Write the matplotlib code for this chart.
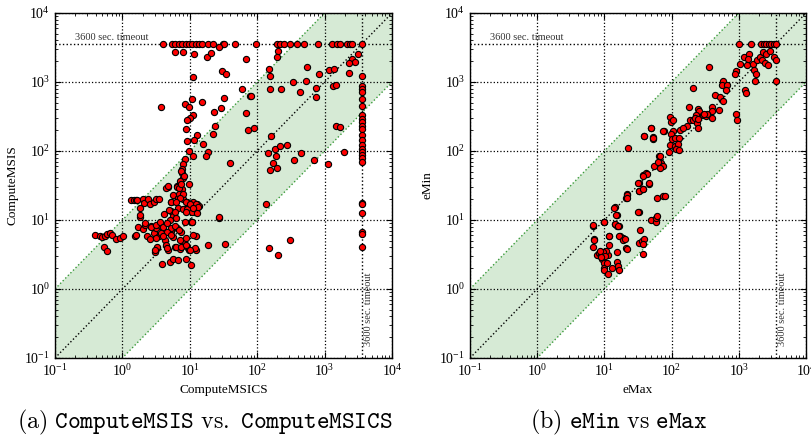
import numpy as np
import matplotlib
matplotlib.use('Agg')
import matplotlib.pyplot as plt

TIMEOUT = 3600

# ---------------- panel (a): ComputeMSICS (x) vs ComputeMSIS (y) ----------------
a_timeout_row_x = [4.0, 5.5, 6.1, 6.9, 7.7, 8.7, 9.7, 10.9, 12.2, 13.7, 15.3, 18.8, 22.4,
                   30.8, 32.2, 47, 96, 196, 219, 246, 302, 388, 499, 789, 1290, 1530, 1710,
                   2150, 2410, 2560, 3600]
a_timeout_col_y = [1230, 885, 795, 710, 569, 455, 327, 293, 262, 234, 210, 168, 143, 121,
                   108, 97, 87, 78, 69, 17.8, 16.8, 12.8, 6.6, 6.2, 4.0]
a_pts = [
    (6.0, 2750), (8.0, 2750), (11.6, 2580), (18.2, 2270), (20.9, 2650), (27.4, 3240), (68, 2150),
    (11.3, 1190), (30.4, 1440), (34.5, 1300),
    (3.7, 430), (8.6, 480), (9.7, 440), (10.6, 560), (11.3, 335), (10.2, 300), (9.0, 277),
    (15.3, 510), (22.6, 373), (28.7, 417), (32.2, 594), (59.7, 793), (78.5, 628), (68, 353),
    (74, 203), (90, 219),
    (8.8, 208), (12.6, 172), (11.5, 146), (9.1, 138), (15.8, 128), (22.4, 178), (23.6, 227),
    (18.8, 96), (17.2, 84), (11.3, 84), (9.6, 99), (39.5, 66), (8.6, 77), (8.0, 64), (7.6, 54),
    (7.6, 48), (8.0, 41), (7.1, 34.5), (9.7, 33.4), (6.4, 31), (4.8, 29.9), (4.5, 29.5),
    (7.6, 27.7), (7.1, 23.4), (5.7, 22.7), (6.7, 21), (8.0, 19.9), (5.2, 18.2), (9.0, 18.2),
    (9.5, 15.9), (10.6, 16.8), (11.6, 15.9), (12.6, 16.8), (13.7, 15.9), (6.7, 15.1),
    (7.8, 14.6), (9.0, 14.3), (5.35, 13.5), (5.7, 11.4), (10.9, 13.2), (12.6, 12.7),
    (134, 16.8), (27.4, 10.8), (10.3, 9.4),
    (1.33, 19.2), (1.49, 19.2), (1.58, 19.2), (1.67, 19.2), (1.99, 19.9), (2.1, 17.8),
    (2.4, 19.9), (2.6, 17.3), (2.93, 18.4), (3.13, 19.9), (3.5, 19.9), (1.85, 11.2), (1.81, 15.1),
    (0.39, 6.1), (0.46, 5.9), (0.49, 5.6), (0.55, 5.9), (0.59, 6.3), (0.65, 6.5), (0.69, 6.1),
    (0.80, 5.3), (0.93, 5.4), (1.02, 5.8), (0.53, 4.0), (0.59, 3.6), (1.56, 5.9), (1.71, 7.8),
    (2.03, 7.4), (2.2, 8.5), (2.33, 5.9), (2.55, 5.3), (2.7, 8.1), (2.9, 6.5), (3.2, 7.6),
    (3.5, 5.9), (3.8, 8.3), (4.0, 7.4), (4.3, 5.2), (4.5, 4.3), (4.8, 3.7), (3.0, 3.4),
    (3.3, 3.9), (3.9, 2.3), (5.1, 2.5), (5.7, 2.7), (6.7, 2.6), (8.8, 2.7), (10.3, 2.2),
    (7.1, 3.8), (8.2, 5.0), (9.0, 4.0), (9.8, 3.7), (6.1, 4.0), (6.4, 7.6), (5.7, 5.6),
    (5.35, 7.0), (7.5, 6.7), (8.5, 9.2), (10.6, 9.2), (12.2, 5.9), (12.4, 3.7), (18.4, 4.3),
    (33.7, 4.5), (151, 3.9), (203, 3.06), (302, 5.2),
    (7.5, 51), (8.2, 44), (7.1, 36.5), (6.5, 30), (6.9, 29), (4.7, 30.6), (7.5, 33), (7.0, 24),
    (8.0, 23.5), (7.1, 21), (5.3, 18.4), (6.2, 18.4), (8.7, 18.4), (11.2, 18), (12.5, 16.8),
    (10, 16.8), (13.2, 15.6), (1.8, 11.8), (4.1, 12.1), (4.9, 13.9), (6.0, 13.2), (6.2, 10.6),
    (8.7, 13.2), (11.2, 14.7), (10.6, 9.5), (5.0, 10), (27.3, 11.2), (1.58, 6.1), (2.15, 9.0),
    (2.7, 8.0), (3.1, 8.5), (3.6, 9.5), (4.0, 8.0), (4.6, 9.0), (5.3, 7.6), (6.0, 8.3),
    (6.9, 7.2), (4.6, 6.8), (3.8, 6.4), (3.2, 5.4), (4.0, 5.8), (5.3, 6.1), (7.1, 5.1),
    (8.7, 5.4), (11.2, 6.1), (11.9, 3.9), (3.3, 4.1), (3.0, 3.7), (4.6, 3.9), (6.3, 4.1),
    (7.5, 4.0), (8.7, 4.4), (10, 3.7),
    (202, 2830), (198, 2270), (152, 1540), (154, 1210), (548, 1660), (824, 1320), (1145, 1510),
    (1360, 1520), (3180, 2560), (2560, 2150), (2840, 1940), (2340, 1880), (2320, 1350),
    (337, 990), (535, 1045), (154, 800), (226, 800), (428, 710), (753, 811), (753, 608),
    (1330, 866), (1470, 916), (80, 636), (159, 166), (1485, 234), (1705, 224), (147, 92),
    (182, 106), (187, 85), (221, 118), (277, 123), (171, 68), (198, 57.5), (154, 53), (348, 73),
    (452, 92), (687, 75), (1120, 64), (1910, 97),
]
msics = a_timeout_row_x + [TIMEOUT] * len(a_timeout_col_y) + [p[0] for p in a_pts]
msis = [TIMEOUT] * len(a_timeout_row_x) + a_timeout_col_y + [p[1] for p in a_pts]

# ---------------- panel (b): eMax (x) vs eMin (y) ----------------
b_timeout_row_x = [1010, 1540, 2170, 2350, 2570, 2820, 3050, 3310, 3600]
b_pts = [
    (1190, 2300), (1420, 2540), (1380, 2150), (1040, 1840), (1330, 1780), (1630, 1820),
    (1870, 2050), (2050, 2300), (2300, 2680), (2570, 2560), (2880, 2860), (2240, 2050),
    (2430, 1880), (2730, 1740), (3310, 2300), (3600, 2100), (1670, 1510), (1790, 1320),
    (1730, 1045), (3600, 1020), (923, 1425), (872, 1320), (358, 1630), (585, 1020), (572, 896),
    (671, 916), (641, 759), (1227, 776), (1300, 693), (210, 811), (440, 650), (522, 608),
    (585, 526), (901, 349), (944, 286), (393, 436), (406, 378), (505, 390), (398, 299),
    (183, 436), (249, 408), (258, 378), (187, 280), (210, 286), (240, 251), (249, 217),
    (167, 229), (133, 199), (146, 217), (106, 194), (94, 313), (97, 262), (106, 280), (77, 194),
    (49, 215), (39, 164), (53, 161), (53, 147), (97, 174), (100, 151), (112, 155), (130, 155),
    (94, 121), (112, 118), (126, 125), (116, 106), (127, 102), (92, 97), (22.4, 109), (66, 85),
    (55, 61), (69, 66), (73, 61),
    (295, 330), (310, 335), (325, 325), (340, 340), (300, 345), (230, 330), (220, 305), (245, 290),
    (37, 44.6), (42, 47.6), (32.7, 34.9), (38, 28.6), (33, 26.5), (46.5, 33), (22, 23.7),
    (21, 20.5), (14.4, 15.2), (15.2, 11.8), (32.7, 13.2), (14.4, 8.75), (15.6, 8.1), (16.7, 8.1),
    (6.7, 8.3), (9.7, 9.2), (11.9, 5.8), (7.0, 5.3), (17.1, 5.8), (19.1, 5.4), (21, 3.9),
    (6.7, 4.0),
    (6.7, 8.5), (9.9, 9.3), (14.4, 8.7), (16.2, 8.3), (33.9, 7.2), (50, 10), (58, 9.5),
    (7.0, 5.2), (11.9, 5.9), (16.7, 5.8), (18.7, 5.2), (20.3, 5.3), (11.9, 4.4), (21.5, 3.8),
    (33, 4.7), (35.8, 5.0), (38.8, 5.3), (37, 4.5), (38, 3.2), (7.7, 3.1), (15.6, 3.4),
    (9.2, 2.7), (9.7, 2.4), (9.9, 2.0), (10, 1.86), (11.5, 1.66), (10.8, 2.4), (12.8, 2.0),
    (15.6, 2.5), (16.2, 2.15), (16.7, 1.86), (11.5, 3.06), (10.6, 3.5), (8.3, 3.3), (8.8, 3.2),
    (9.5, 3.4), (10.2, 3.0), (9.0, 2.9), (8.5, 3.5),
    (38.8, 163), (53.5, 152), (48.8, 215), (75, 192), (67, 84), (63, 69), (75, 60), (67, 57),
    (42.6, 47), (37, 44), (32, 34.5), (33, 26), (38, 28), (46.6, 34.5), (61, 20.6), (75, 22),
    (81, 22), (22, 23.4), (21.5, 20.6), (32, 13.2), (13.9, 15.1), (14.9, 11.7), (10, 9.2),
    (58, 10.8), (60, 11.4),
]
emax = b_timeout_row_x + [p[0] for p in b_pts]
emin = [TIMEOUT] * len(b_timeout_row_x) + [p[1] for p in b_pts]

LIM = [0.1, 1e4]

plt.rcParams.update({
    'font.family': 'serif',
    'font.serif': ['Liberation Serif', 'DejaVu Serif'],
    'mathtext.fontset': 'cm',
    'xtick.direction': 'in', 'ytick.direction': 'in',
    'xtick.top': True, 'ytick.right': True,
    'xtick.major.size': 4.5, 'ytick.major.size': 4.5,
    'xtick.minor.size': 2.2, 'ytick.minor.size': 2.2,
    'xtick.labelsize': 10, 'ytick.labelsize': 10,
    'axes.linewidth': 1.0,
})

BAND = '#d6ead5'
GREEN = '#3a9a3a'

fig = plt.figure(figsize=(8.11, 4.47), dpi=100)


def panel(rect, x, y, xlabel, ylabel):
    ax = fig.add_axes(rect)
    ax.set_xscale('log')
    ax.set_yscale('log')
    bx = np.array(LIM)
    ax.fill_between(bx, bx / 10, bx * 10, color=BAND, lw=0, zorder=0)
    ax.plot(bx, bx / 10, ls=':', color=GREEN, lw=1.0, zorder=1)
    ax.plot(bx, bx * 10, ls=':', color=GREEN, lw=1.0, zorder=1)
    ax.plot(bx, bx, ls=':', color='black', lw=1.0, zorder=1)
    ax.axhline(TIMEOUT, ls=':', color='black', lw=1.0, zorder=1)
    ax.axvline(TIMEOUT, ls=':', color='black', lw=1.0, zorder=1)
    ax.grid(True, which='major', ls=':', color='black', lw=0.9)
    ax.scatter(x, y, s=20, c='#ff0000', edgecolors='black', linewidths=0.8, zorder=3)
    ax.set_xlim(LIM)
    ax.set_ylim(LIM)
    ax.set_xlabel(xlabel, fontsize=9.5)
    ax.set_ylabel(ylabel, fontsize=9.5)
    ax.text(0.2, TIMEOUT * 1.05, '3600 sec. timeout', fontsize=7.5, ha='left', va='bottom',
            color='#333333')
    ax.text(TIMEOUT * 1.07, 0.15, '3600 sec. timeout', fontsize=7.5, ha='left', va='bottom',
            rotation=90, color='#333333')
    return ax


panel([55 / 811, 1 - 358 / 447, 337 / 811, 345 / 447], msics, msis, 'ComputeMSICS', 'ComputeMSIS')
panel([470 / 811, 1 - 358 / 447, 336 / 811, 345 / 447], emax, emin, 'eMax', 'eMin')

fig.text(205 / 811, 1 - 422 / 447,
         r'$\mathrm{(a)}\ \mathtt{ComputeMSIS}\ \mathrm{vs.}\ \mathtt{ComputeMSICS}$',
         ha='center', va='center', fontsize=17.3)
fig.text(619 / 811, 1 - 422 / 447,
         r'$\mathrm{(b)}\ \mathtt{eMin}\ \mathrm{vs}\ \mathtt{eMax}$',
         ha='center', va='center', fontsize=17.3)

fig.savefig('out.png', dpi=100)
